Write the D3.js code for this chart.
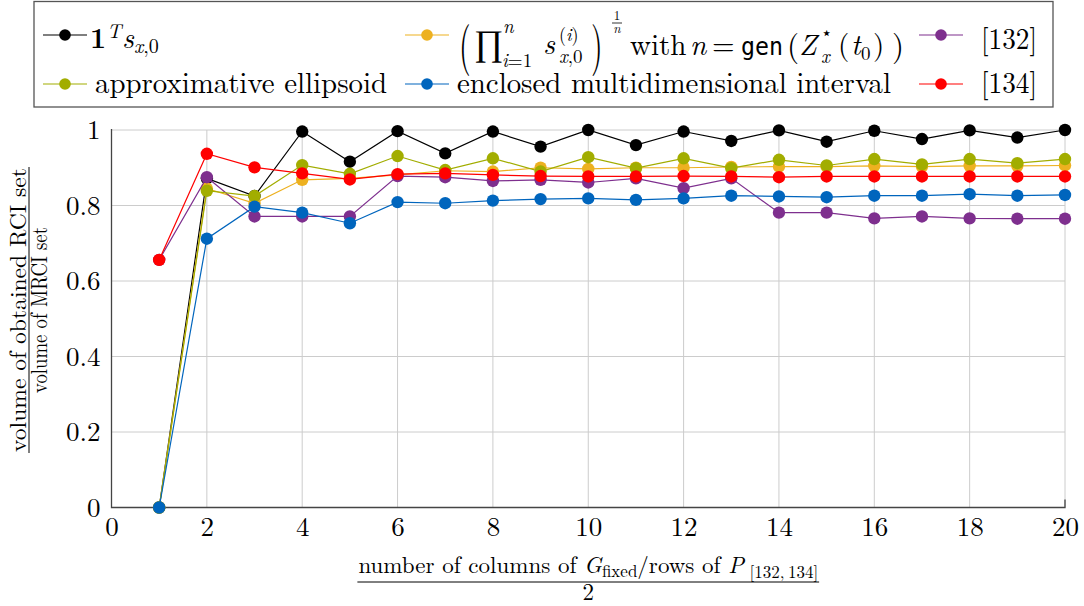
<!DOCTYPE html>
<html>
<head>
<meta charset="utf-8">
<script src="https://cdn.jsdelivr.net/npm/d3@7"></script>
<style>
  body { margin: 0; background: #fff; }
</style>
</head>
<body>
<div id="chart"></div>
<script>
// chart data
const xValues = [1, 2, 3, 4, 5, 6, 7, 8, 9, 10, 11, 12, 13, 14, 15, 16, 17, 18, 19, 20];
const xTicks = [0, 2, 4, 6, 8, 10, 12, 14, 16, 18, 20];
const yTicks = [0, 0.2, 0.4, 0.6, 0.8, 1];
const yTickLabels = ['0', '0.2', '0.4', '0.6', '0.8', '1'];

const onesSum = [0, 0.872, 0.825, 0.996, 0.916, 0.997, 0.938, 0.996, 0.956, 1.0, 0.960, 0.996, 0.971, 0.999, 0.969, 0.998, 0.976, 0.999, 0.980, 1.0];
const geoMean = [0, 0.845, 0.806, 0.868, 0.872, 0.881, 0.892, 0.890, 0.900, 0.897, 0.900, 0.900, 0.902, 0.903, 0.903, 0.905, 0.903, 0.905, 0.905, 0.906];
const ref132 = [0.656, 0.875, 0.771, 0.771, 0.771, 0.878, 0.875, 0.865, 0.868, 0.861, 0.872, 0.846, 0.872, 0.781, 0.781, 0.766, 0.771, 0.766, 0.765, 0.765];
const ellipsoid = [0, 0.839, 0.825, 0.907, 0.884, 0.931, 0.894, 0.925, 0.890, 0.928, 0.899, 0.925, 0.899, 0.921, 0.906, 0.923, 0.909, 0.923, 0.912, 0.923];
const interval = [0, 0.712, 0.797, 0.781, 0.753, 0.809, 0.806, 0.813, 0.817, 0.819, 0.815, 0.819, 0.826, 0.824, 0.822, 0.826, 0.826, 0.830, 0.826, 0.828];
const ref134 = [0.656, 0.937, 0.901, 0.885, 0.869, 0.883, 0.885, 0.881, 0.878, 0.877, 0.877, 0.878, 0.877, 0.875, 0.877, 0.877, 0.877, 0.877, 0.877, 0.877];

// drawing order follows the legend (row by row)
const series = [
  { id: 'ones', values: onesSum, color: '#000000' },
  { id: 'geo', values: geoMean, color: '#EDB120' },
  { id: 'r132', values: ref132, color: '#7E2F8E' },
  { id: 'ell', values: ellipsoid, color: '#A2AD00' },
  { id: 'int', values: interval, color: '#0065BD' },
  { id: 'r134', values: ref134, color: '#FF0000' }
];

const FONT = 'Latin Modern Roman';

const dimensions = {
  width: 1084,
  height: 606,
  margin: { top: 130, bottom: 98.5, left: 111.5, right: 19 }
};

const svg = d3.select('#chart').append('svg')
  .attr('width', dimensions.width)
  .attr('height', dimensions.height);

const x0 = dimensions.margin.left;
const x1 = dimensions.width - dimensions.margin.right;
const y0 = dimensions.height - dimensions.margin.bottom;
const y1 = dimensions.margin.top;

const xScale = d3.scaleLinear().domain([0, 20]).range([x0, x1]);
const yScale = d3.scaleLinear().domain([0, 1]).range([y0, y1]);

// grid
const grid = svg.append('g').attr('stroke', '#cccccc').attr('stroke-width', 1);
grid.selectAll('.vgrid').data(xTicks.filter(d => d > 0)).enter().append('line')
  .attr('x1', d => xScale(d)).attr('x2', d => xScale(d))
  .attr('y1', y0).attr('y2', y1);
grid.selectAll('.hgrid').data(yTicks.filter(d => d > 0)).enter().append('line')
  .attr('x1', x0).attr('x2', x1)
  .attr('y1', d => yScale(d)).attr('y2', d => yScale(d));

// axes (labels only, lines drawn below)
const xAxis = d3.axisBottom(xScale).tickValues(xTicks).tickSize(0).tickPadding(0);
const gx = svg.append('g').attr('transform', `translate(0,${y0})`).call(xAxis);
gx.select('.domain').remove();
gx.selectAll('text')
  .attr('dy', null).attr('y', 28.5)
  .style('font-family', FONT).style('font-size', '27px').attr('fill', '#000');

const yAxis = d3.axisLeft(yScale).tickValues(yTicks).tickFormat((d, i) => yTickLabels[i]).tickSize(0).tickPadding(0);
const gy = svg.append('g').attr('transform', `translate(${x0 - 11},0)`).call(yAxis);
gy.select('.domain').remove();
gy.selectAll('text')
  .attr('dy', '0.32em')
  .style('font-family', FONT).style('font-size', '27px').attr('fill', '#000');

svg.append('path')
  .attr('d', `M${x0},${y1 - 1}V${y0}H${x1}V${y0 - 8}`)
  .attr('fill', 'none').attr('stroke', '#444').attr('stroke-width', 1.3);

// series
const line = d3.line().x((d, i) => xScale(xValues[i])).y(d => yScale(d));
const plot = svg.append('g');
series.forEach(s => {
  const g = plot.append('g').attr('class', `series-${s.id}`);
  g.append('path').datum(s.values)
    .attr('d', line).attr('fill', 'none')
    .attr('stroke', s.color).attr('stroke-width', 1.2);
  g.selectAll('circle').data(s.values).enter().append('circle')
    .attr('cx', (d, i) => xScale(xValues[i]))
    .attr('cy', d => yScale(d))
    .attr('r', 6.2)
    .attr('fill', s.color);
});

function put(parent, txt, x, y, size, opts = {}) {
  const t = parent.append('text').attr('x', x).attr('y', y)
    .style('font-family', opts.family || FONT).style('font-size', size + 'px')
    .attr('fill', '#000').text(txt);
  if (opts.italic) t.style('font-style', 'italic');
  if (opts.bold) t.style('font-weight', 'bold');
  if (opts.len) t.attr('textLength', opts.len).attr('lengthAdjust', 'spacingAndGlyphs');
  if (opts.anchor) t.attr('text-anchor', opts.anchor);
  if (opts.transform) t.attr('transform', opts.transform);
  return t;
}

// text made of pieces: [string, {italic, size, dy}]
function putMixed(parent, parts, x, y, size) {
  const t = parent.append('text').attr('x', x).attr('y', y)
    .style('font-family', FONT).style('font-size', size + 'px').attr('fill', '#000');
  parts.forEach(([str, o = {}]) => {
    const sp = t.append('tspan').text(str);
    if (o.italic) sp.style('font-style', 'italic');
    if (o.size) sp.style('font-size', o.size + 'px');
    if (o.dy) sp.attr('dy', o.dy);
  });
  return t;
}

// y axis label (fraction)
const yl = svg.append('g').attr('transform', 'translate(0,310) rotate(-90)');
put(yl, 'volume of obtained RCI set', 0, 25.5, 23, { anchor: 'middle', len: 284 });
yl.append('line').attr('x1', -143).attr('x2', 143).attr('y1', 29).attr('y2', 29)
  .attr('stroke', '#000').attr('stroke-width', 1);
put(yl, 'volume of MRCI set', 0, 46.5, 23, { anchor: 'middle', len: 166 });

// x axis label (fraction), centred under the plot
const xMid = (x0 + x1) / 2;
const xlNum = putMixed(svg, [
  ['number of columns of '],
  ['G', { italic: true }],
  ['fixed', { size: 17, dy: 4 }],
  ['/rows of ', { dy: -4 }],
  ['P', { italic: true }],
  [' [132,\u2009134]', { size: 17, dy: 5 }]
], xMid, 573, 23).attr('text-anchor', 'middle');
const numW = xlNum.node().getComputedTextLength();
svg.append('line').attr('x1', xMid - numW / 2 - 1).attr('x2', xMid + numW / 2 + 1)
  .attr('y1', 582).attr('y2', 582).attr('stroke', '#000').attr('stroke-width', 1);
put(svg, '2', xMid, 600, 23, { anchor: 'middle' });

// legend
const legend = svg.append('g');
legend.append('rect').attr('x', 34).attr('y', 1.5).attr('width', 1019).attr('height', 105.5)
  .attr('fill', '#fff').attr('stroke', '#555').attr('stroke-width', 1.3);

const legendSlots = [
  { id: 'ones', x: 43, y: 35 },
  { id: 'geo', x: 405, y: 35 },
  { id: 'r132', x: 919, y: 35 },
  { id: 'ell', x: 43, y: 84 },
  { id: 'int', x: 405, y: 84 },
  { id: 'r134', x: 919, y: 84 }
];
legendSlots.forEach(slot => {
  const s = series.find(d => d.id === slot.id);
  legend.append('line').attr('x1', slot.x).attr('x2', slot.x + 44)
    .attr('y1', slot.y).attr('y2', slot.y)
    .attr('stroke', s.color).attr('stroke-width', 1.2);
  legend.append('circle').attr('cx', slot.x + 22).attr('cy', slot.y).attr('r', 5.8).attr('fill', s.color);
});

// 1^T s_{x,0}
put(legend, '1', 90, 48, 28, { bold: true });
put(legend, 'T', 107, 38, 20, { italic: true });
put(legend, 's', 122, 48, 29, { italic: true });
putMixed(legend, [['x', { italic: true }], [',0']], 134, 53, 20);

// (prod_{i=1}^n s_{x,0}^{(i)})^{1/n} with n = gen(Z*_x(t0))
put(legend, '(', 0, 0, 30, { transform: 'translate(459,63) scale(1,1.75)' });
put(legend, '\u220F', 474, 55, 36);
put(legend, 'n', 503, 33, 19, { italic: true });
putMixed(legend, [['i', { italic: true }], ['=1']], 502, 67, 19);
put(legend, 's', 543, 54, 29, { italic: true });
putMixed(legend, [['('], ['i', { italic: true }], [')']], 559, 41, 18);
putMixed(legend, [['x', { italic: true }], [',0']], 559, 63, 19);
put(legend, ')', 0, 0, 30, { transform: 'translate(591,63) scale(1,1.75)' });
put(legend, '1', 617, 19.5, 13, { anchor: 'middle' });
legend.append('line').attr('x1', 612).attr('x2', 622).attr('y1', 23).attr('y2', 23)
  .attr('stroke', '#000').attr('stroke-width', 0.8);
put(legend, 'n', 617, 33, 13, { italic: true, anchor: 'middle' });
put(legend, 'with', 630, 55, 29);
put(legend, 'n', 690, 55, 29, { italic: true });
put(legend, '=', 712, 55, 29);
put(legend, 'gen', 741, 55, 25, { family: 'DejaVu Sans Mono', len: 42 });
put(legend, '(', 787, 56, 31);
put(legend, 'Z', 799, 55, 29, { italic: true });
put(legend, '\u22C6', 821, 39, 18);
put(legend, 'x', 821, 63, 19, { italic: true });
put(legend, '(', 838, 55, 29);
put(legend, 't', 851, 55, 29, { italic: true });
put(legend, '0', 861, 60, 19);
put(legend, ')', 873, 55, 29);
put(legend, ')', 892, 56, 31);

put(legend, '[132]', 981, 49, 29, { len: 56 });
put(legend, 'approximative ellipsoid', 95, 93, 29, { len: 292 });
put(legend, 'enclosed multidimensional interval', 457, 93, 29, { len: 434 });
put(legend, '[134]', 981, 93, 29, { len: 56 });
</script>
</body>
</html>
